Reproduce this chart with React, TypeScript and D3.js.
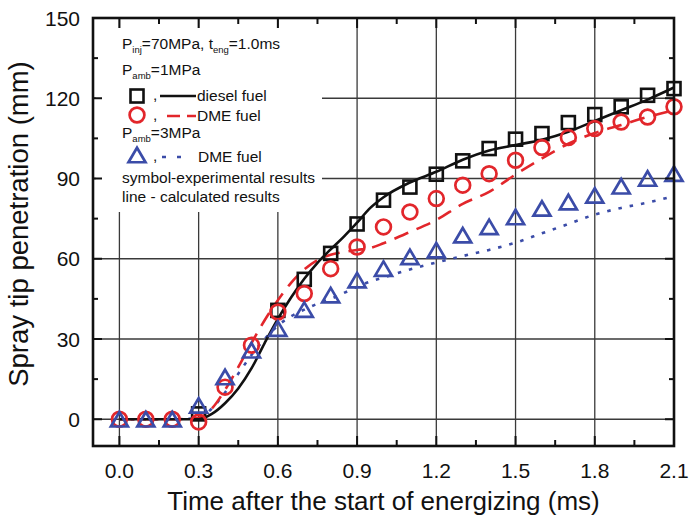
import React from "react";
import * as d3 from "d3";

// ---------- data ----------
const xTicks = [0.0, 0.3, 0.6, 0.9, 1.2, 1.5, 1.8, 2.1];
const yTicks = [0, 30, 60, 90, 120, 150];

const expTime = [0.0, 0.1, 0.2, 0.3, 0.4, 0.5, 0.6, 0.7, 0.8, 0.9, 1.0, 1.1, 1.2, 1.3, 1.4, 1.5, 1.6, 1.7, 1.8, 1.9, 2.0, 2.1];
const dieselExp = [null, null, null, 2, null, null, 40.7, 52.3, 62, 73, 81.9, 86.8, 91.6, 96.6, 101.2, 104.7, 106.8, 110.9, 113.9, 116.8, 121.1, 123.6];
const dme1Exp = [0, 0, 0, -1, 12, 27.7, 40.1, 47, 56.3, 64.4, 71.9, 77.5, 82.5, 87.5, 91.8, 96.8, 101.6, 105.3, 108.7, 111.1, 113, 116.8];
const dme3Exp = [0, 0, 0, 5.2, 15.8, 25.8, 33.9, 41, 46.4, 52, 56.3, 60.7, 63.2, 68.8, 71.9, 75.6, 78.8, 81.2, 83.7, 87.1, 90, 91.8];

const calcTime = [0, 0.1, 0.2, 0.3, 0.35, 0.4, 0.45, 0.5, 0.55, 0.6, 0.65, 0.7, 0.75, 0.8, 0.85, 0.9, 0.95, 1.0, 1.1, 1.2, 1.3, 1.4, 1.5, 1.6, 1.7, 1.8, 1.9, 2.0, 2.1];
const dieselCalc = [0, 0, 0, 0, 2, 6, 11.5, 19, 28.5, 37.5, 45.5, 52.5, 58.5, 63.5, 68.3, 73.5, 79, 83, 88.5, 92.5, 97, 100.5, 102.5, 104.5, 107.5, 111.5, 115.5, 119.5, 124];
const dme1Calc = [0, 0, 0, 0.5, 4, 11, 19.5, 28.5, 37, 44.5, 51, 56, 59.5, 61.5, 62.5, 63.3, 64, 65.8, 70, 74.5, 80.5, 85, 91.5, 97.5, 103, 107, 110, 113, 115.5];
const dme3Calc = [0, 0, 0, 0.5, 4, 10, 17, 24, 30, 35, 38.5, 41, 43.2, 45, 47.2, 49.5, 51.5, 53, 56, 58.6, 61, 63.3, 66, 69.5, 73, 76.5, 79, 81, 83.4];

const RED = "#e2262b";
const BLUE = "#3b4ca8";
const FONT = "'Liberation Sans', Arial, Helvetica, sans-serif";

const W = 689, H = 520;
const L = 93, R = 674, T = 18, B = 446;

const x = d3.scaleLinear().domain([-0.1, 2.1]).range([L, R]);
const y = d3.scaleLinear().domain([-10, 150]).range([B, T]);

type P = [number, number];
const pts = (ts: number[], vs: (number | null)[]): P[] =>
  ts.map((t, i) => [t, vs[i]] as [number, number | null]).filter((d) => d[1] !== null) as P[];

const line = d3
  .line<P>()
  .x((d) => x(d[0]))
  .y((d) => y(d[1]))
  .curve(d3.curveMonotoneX);

const Square = ({ cx, cy, s = 13 }: { cx: number; cy: number; s?: number }) => (
  <rect x={cx - s / 2} y={cy - s / 2} width={s} height={s} fill="none" stroke="#111" strokeWidth={2.6} />
);
const Circle = ({ cx, cy }: { cx: number; cy: number }) => (
  <circle cx={cx} cy={cy} r={7.4} fill="none" stroke={RED} strokeWidth={2.7} />
);
const Tri = ({ cx, cy }: { cx: number; cy: number }) => {
  const w = 17, h = 14.5;
  const p = `M${cx},${cy - h / 2}L${cx + w / 2},${cy + h / 2}L${cx - w / 2},${cy + h / 2}Z`;
  return <path d={p} fill="none" stroke={BLUE} strokeWidth={2.7} strokeLinejoin="miter" />;
};

export default function App() {
  const xMinor = d3.range(0, 22).map((i) => i * 0.15).filter((v) => v <= 2.1 + 1e-9);
  const yMinor = d3.range(0, 11).map((i) => i * 15);

  return (
    <svg width={W} height={H} style={{ position: "absolute", left: 0, top: 0, background: "#fff" }} fontFamily={FONT}>
      <rect x={0} y={0} width={W} height={H} fill="#fff" />
      {/* grid */}
      <g stroke="#3a3a3a" strokeWidth={1.3}>
        {xTicks.map((t) => (
          <line key={"gx" + t} x1={x(t)} x2={x(t)} y1={T} y2={B} />
        ))}
        {yTicks.map((v) => (
          <line key={"gy" + v} x1={L} x2={R} y1={y(v)} y2={y(v)} />
        ))}
      </g>

      {/* legend background */}
      <rect x={96} y={28} width={226} height={184} fill="#fff" />

      {/* calculated lines */}
      <path d={line(pts(calcTime, dme3Calc)) || ""} fill="none" stroke={BLUE} strokeWidth={2.6} strokeDasharray="3.5 8" />
      <path d={line(pts(calcTime, dme1Calc)) || ""} fill="none" stroke={RED} strokeWidth={2.6} strokeDasharray="15 9" />
      <path d={line(pts(calcTime, dieselCalc)) || ""} fill="none" stroke="#111" strokeWidth={2.6} />

      {/* experimental markers */}
      {pts(expTime, dieselExp).map((d, i) => (
        <Square key={"s" + i} cx={x(d[0])} cy={y(d[1])} />
      ))}
      {pts(expTime, dme1Exp).map((d, i) => (
        <Circle key={"c" + i} cx={x(d[0])} cy={y(d[1])} />
      ))}
      {pts(expTime, dme3Exp).map((d, i) => (
        <Tri key={"t" + i} cx={x(d[0])} cy={y(d[1])} />
      ))}

      {/* frame */}
      <rect x={L} y={T} width={R - L} height={B - T} fill="none" stroke="#111" strokeWidth={2.6} />

      {/* ticks */}
      <g stroke="#111" strokeWidth={2}>
        {xMinor.map((t, i) => {
          const major = i % 2 === 0;
          const len = major ? 10 : 6;
          return (
            <g key={"xt" + i}>
              <line x1={x(t)} x2={x(t)} y1={B} y2={B - len} />
              <line x1={x(t)} x2={x(t)} y1={T} y2={T + len} />
            </g>
          );
        })}
        {yMinor.map((v, i) => {
          const major = i % 2 === 0;
          const len = major ? 9 : 5;
          return (
            <g key={"yt" + i}>
              <line x1={L} x2={L + len} y1={y(v)} y2={y(v)} />
              <line x1={R} x2={R - len} y1={y(v)} y2={y(v)} />
            </g>
          );
        })}
      </g>

      {/* tick labels */}
      <g fontSize={21} fill="#111">
        {xTicks.map((t) => (
          <text key={"xl" + t} x={x(t)} y={478} textAnchor="middle">
            {t.toFixed(1)}
          </text>
        ))}
        {yTicks.map((v) => (
          <text key={"yl" + v} x={80} y={y(v)} dy="0.36em" textAnchor="end">
            {v}
          </text>
        ))}
      </g>

      {/* axis titles */}
      <text x={(L + R) / 2} y={510} textAnchor="middle" fontSize={26} fill="#111">
        Time after the start of energizing (ms)
      </text>
      <text transform={`translate(28,224) rotate(-90)`} textAnchor="middle" fontSize={27.5} fill="#111">
        Spray tip penetration (mm)
      </text>

      {/* legend */}
      <g fontSize={15.5} fill="#111">
        <text x={122} y={49}>
          P<tspan fontSize={9.5} dy={4}>inj</tspan>
          <tspan dy={-4}>=70MPa, t</tspan>
          <tspan fontSize={9.5} dy={4}>eng</tspan>
          <tspan dy={-4}>=1.0ms</tspan>
        </text>
        <text x={122} y={75}>
          P<tspan fontSize={9.5} dy={4}>amb</tspan>
          <tspan dy={-4}>=1MPa</tspan>
        </text>
        <Square cx={137} cy={96} />
        <text x={153} y={100}>,</text>
        <line x1={160} x2={196} y1={96} y2={96} stroke="#111" strokeWidth={2.6} />
        <text x={197} y={101}>diesel fuel</text>

        <Circle cx={137} cy={115} />
        <text x={153} y={120}>,</text>
        <line x1={167} x2={196} y1={116} y2={116} stroke={RED} strokeWidth={2.6} strokeDasharray="13 7" />
        <text x={197} y={121}>DME fuel</text>

        <text x={122} y={138}>
          P<tspan fontSize={9.5} dy={4}>amb</tspan>
          <tspan dy={-4}>=3MPa</tspan>
        </text>
        <Tri cx={137} cy={155} />
        <text x={153} y={161}>,</text>
        <line x1={162} x2={184} y1={157} y2={157} stroke={BLUE} strokeWidth={2.6} strokeDasharray="4 11" />
        <text x={198} y={162}>DME fuel</text>

        <text x={122} y={183}>symbol-experimental results</text>
        <text x={122} y={202}>line - calculated results</text>
      </g>
    </svg>
  );
}
